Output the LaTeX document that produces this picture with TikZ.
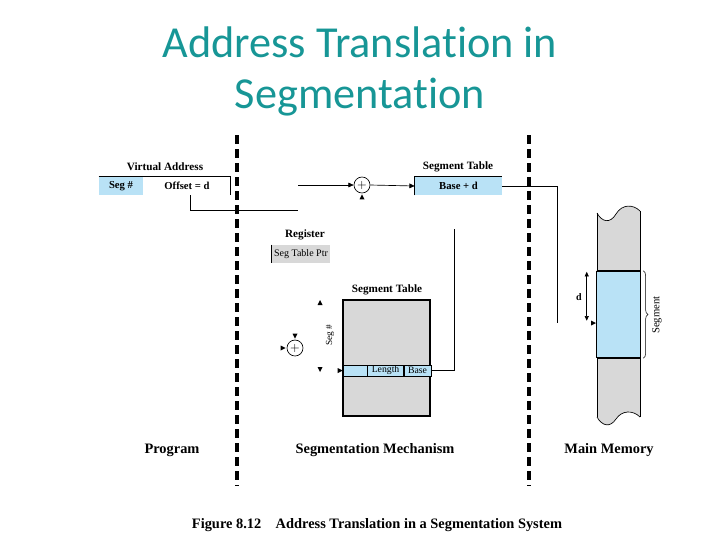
\documentclass[tikz,border=0pt]{standalone}
\usepackage{fontspec}
\setmainfont{Liberation Serif}
\newfontfamily\titlefont[Ligatures=NoCommon]{Carlito}
\usetikzlibrary{positioning,calc,arrows.meta,decorations.pathreplacing}

\definecolor{titleteal}{RGB}{23,150,150}
\definecolor{cellblue}{RGB}{185,226,246}
\definecolor{memgray}{RGB}{216,216,216}

\tikzset{
  lbl/.style={font=\bfseries\fontsize{8.4}{10}\selectfont, inner sep=0pt},
  partlbl/.style={font=\bfseries\fontsize{10.8}{12}\selectfont, inner sep=0pt},
  cellblue/.style={fill=cellblue, inner sep=0pt, minimum height=13.5pt, font=\bfseries\fontsize{8}{9}\selectfont},
  cellplain/.style={inner sep=0pt, minimum height=13.5pt, font=\bfseries\fontsize{8}{9}\selectfont},
  cellgray/.style={fill=memgray, inner sep=0pt, minimum height=13.5pt, minimum width=43.5pt, font=\fontsize{7.5}{9}\selectfont},
  rowcell/.style={draw, fill=cellblue, inner sep=0pt, minimum height=8.25pt, line width=0.4pt, font=\fontsize{7.3}{8}\selectfont},
  adder/.style={draw, circle, inner sep=0pt, minimum size=12pt, line width=0.5pt, font=\fontsize{9}{9}\selectfont},
  divider/.style={line width=2.7pt, dash pattern=on 6.75pt off 3.75pt},
  arr/.style={-{Triangle[length=4pt,width=3.5pt]}, line width=0.5pt},
  tipup/.pic={\fill (0,3) -- (-2.5,-2) -- (2.5,-2) -- cycle;},
  tipdown/.pic={\fill (0,-3) -- (-2.5,2) -- (2.5,2) -- cycle;},
  tipright/.pic={\fill (3,0) -- (-2,-2.5) -- (-2,2.5) -- cycle;}
}

\begin{document}
\begin{tikzpicture}[x=0.75pt,y=0.75pt,yscale=-1,xscale=1]
        \useasboundingbox (0,0) rectangle (720,540);

        %Title
        \node[anchor=base, text=titleteal, font=\titlefont\fontsize{33.2}{38}\selectfont] (title1) at (360,57) {Address Translation in};
        \node[anchor=base, text=titleteal, font=\titlefont\fontsize{33.2}{38}\selectfont] (title2) at (360,108) {Segmentation};

        %Dividers
        \draw[divider] (237,135) -- (237,486) ;
        \draw[divider] (529,135) -- (529,486) ;

        %Virtual address
        \node[lbl] (valbl) at (165,167) {Virtual Address};
        \node[cellblue, minimum width=33pt] (segno) at (121,186) {Seg \#};
        \node[cellplain, minimum width=65.25pt, right=0pt of segno] (offset) {Offset = d};
        \draw[line width=0.5pt] (segno.north west) -- (offset.north east) -- (offset.south east) ;
        \coordinate (offsetend) at (298,210);
        \draw[line width=0.5pt] ($(offset.south)+(3.5,0)$) |- (offsetend) ;

        %Adder and segment table entry
        \node[adder] (add1) at (362,185) {$+$};
        \coordinate (addin) at (298,185);
        \draw[arr] (addin) -- (add1.west) ;
        \pic at ($(add1.south)+(0,4)$) {tipup};
        \node[lbl] (stlbl1) at (458,167) {Segment Table};
        \node[cellblue, minimum width=65.25pt] (based) at (458.5,186) {Base + d};
        \draw[line width=0.5pt] (based.south west) |- (based.north east) ;
        \draw[arr] (add1.east) -- (based.west) ;
        \coordinate (memin) at (557,323);
        \draw[line width=0.5pt] (based.east) -| (memin) ;

        %Register
        \node[lbl] (reglbl) at (305,235) {Register};
        \node[cellgray] (stptr) at (301,254) {Seg Table Ptr};
        \draw[line width=0.4pt] (stptr.north west) -- (stptr.south west) ;

        %Segment table
        \node[lbl] (stlbl2) at (387,290) {Segment Table};
        \node[draw, fill=memgray, line width=1.2pt, minimum width=65.25pt, minimum height=87pt, inner sep=0pt] (segtab) at (386.5,358) {};
        \node[rowcell, minimum width=18pt] (rowblank) at (355,370.5) {};
        \node[rowcell, minimum width=27pt, right=0pt of rowblank] (rowlen) {Length};
        \node[rowcell, minimum width=20.25pt, right=0pt of rowlen] (rowbase) {Base};
        \coordinate (tabptr) at (454,229);
        \draw[line width=0.5pt] (tabptr) |- (rowbase.east) ;

        %Seg # offset and adder
        \pic at (320,303) {tipup};
        \pic at (320,369) {tipdown};
        \node[font=\fontsize{7}{8}\selectfont, rotate=90, inner sep=0pt] (seglbl) at (330,335) {Seg \#};
        \pic at ($(rowblank.west)+(-3,0)$) {tipright};
        \node[adder] (add2) at (295,348) {$+$};
        \pic at ($(add2.north)+(0,-4)$) {tipdown};
        \pic at ($(add2.west)+(-4,0)$) {tipright};

        %Main memory
        \fill[memgray] (597,213) .. controls (602,222) and (610,224) .. (616,214) .. controls (622,204) and (633,204) .. (640,211) -- (640,417) .. controls (633,410) and (622,410) .. (616,419) .. controls (610,428) and (602,426) .. (597,417) -- cycle ;
        \draw[line width=0.5pt] (597,213) .. controls (602,222) and (610,224) .. (616,214) .. controls (622,204) and (633,204) .. (640,211) ;
        \draw[line width=0.5pt] (640,417) .. controls (633,410) and (622,410) .. (616,419) .. controls (610,428) and (602,426) .. (597,417) ;
        \draw[line width=0.5pt] (597,213) -- (597,417) (640,211) -- (640,417) ;
        \node[fill=cellblue, minimum width=32.25pt, minimum height=65.25pt, inner sep=0pt] (memseg) at (618.5,314.5) {};
        \draw[line width=1.5pt] (memseg.north west) -- (memseg.north east) (memseg.south west) -- (memseg.south east) ;
        \draw[line width=0.4pt] (memseg.north west) -- (memseg.south west) (memseg.north east) -- (memseg.south east) ;
        \draw[decorate, decoration={brace, amplitude=3.5pt}, line width=0.4pt] ($(memseg.north east)+(3,0)$) -- ($(memseg.south east)+(3,0)$) ;
        \node[font=\fontsize{8}{9}\selectfont, rotate=90, inner sep=0pt] (seglbl2) at (657,315) {Segment};
        \coordinate (dtop) at ($(memseg.north west)+(-10,1)$);
        \coordinate (dbot) at ($(memseg.north west)+(-10,50)$);
        \draw[{Triangle[length=3.5pt,width=3pt]}-{Triangle[length=3.5pt,width=3pt]}, line width=0.5pt] (dtop) -- (dbot) ;
        \node[font=\bfseries\fontsize{7.5}{8}\selectfont, inner sep=0pt] (dlbl) at (579,297) {d};
        \pic at (593,323) {tipright};

        %Part labels
        \node[partlbl] (prog) at (172,450) {Program};
        \node[partlbl] (mech) at (375,450) {Segmentation Mechanism};
        \node[partlbl] (mem) at (609,450) {Main Memory};
        \node[partlbl] (caption) at (377,525) {Figure 8.12\quad Address Translation in a Segmentation System};

\end{tikzpicture}
\end{document}
